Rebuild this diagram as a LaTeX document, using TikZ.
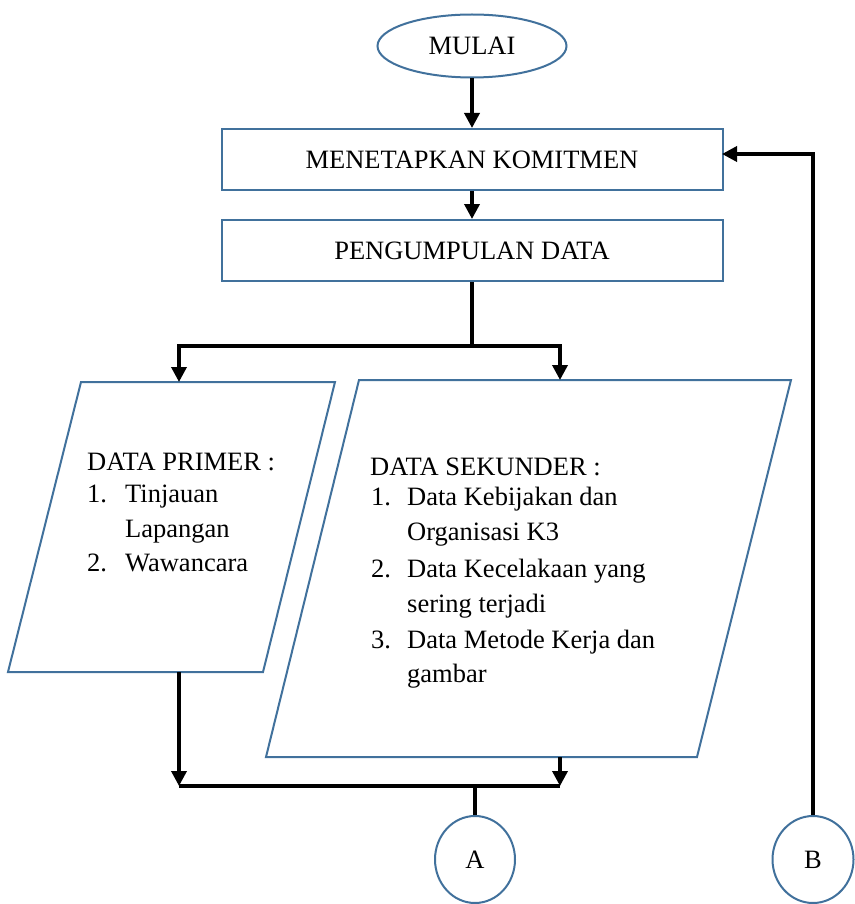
\documentclass[tikz,border=0pt]{standalone}
\usepackage{fontspec}
\setmainfont{Liberation Serif}
\usetikzlibrary{arrows.meta,shapes.geometric}
\definecolor{outl}{RGB}{65,113,156}
\begin{document}
\begin{tikzpicture}[x=1pt,y=-1pt,
  font=\fontsize{26.5}{35}\selectfont,
  shp/.style={draw=outl,line width=2pt,fill=white},
  boxs/.style={shp,rectangle,minimum width=501pt,minimum height=61pt,inner sep=0pt},
  term/.style={shp,ellipse,inner sep=0pt},
  conn/.style={line width=3.5pt,black},
  arr/.style={conn,-{Triangle[length=15pt,width=15pt]}},
  txt/.style={anchor=base west,inner sep=0pt}]
\useasboundingbox (0,0) rectangle (854,904);
% terminator and process boxes
\node[term,minimum width=189pt,minimum height=63pt] (mulai) at (472,46) {MULAI};
\node[boxs] (komit) at (472,159.5) {MENETAPKAN KOMITMEN};
\node[boxs] (kumpul) at (472,250.5) {PENGUMPULAN DATA};
% parallelograms
\coordinate (lp1) at (81,382); \coordinate (lp2) at (335,382);
\coordinate (lp3) at (263,672); \coordinate (lp4) at (8,672);
\coordinate (rp1) at (359,380); \coordinate (rp2) at (791,380);
\coordinate (rp3) at (697,757); \coordinate (rp4) at (266,757);
\draw[shp,line join=miter] (lp1) -- (lp2) -- (lp3) -- (lp4) -- cycle;
\draw[shp,line join=miter] (rp1) -- (rp2) -- (rp3) -- (rp4) -- cycle;
% texts of the parallelograms
\node[txt] (p0) at (87,470) {DATA PRIMER :};
\node[txt] (p1n) at (87,502) {1.};
\node[txt] (p1) at (125,502) {Tinjauan};
\node[txt] (p1b) at (125,537) {Lapangan};
\node[txt] (p2n) at (87,571) {2.};
\node[txt] (p2) at (125,571) {Wawancara};
\node[txt] (s0) at (370,475) {DATA SEKUNDER :};
\node[txt] (s1n) at (371,505) {1.};
\node[txt] (s1) at (407,505) {Data Kebijakan dan};
\node[txt] (s1b) at (407,540) {Organisasi K3};
\node[txt] (s2n) at (371,577) {2.};
\node[txt] (s2) at (407,577) {Data Kecelakaan yang};
\node[txt] (s2b) at (407,612) {sering terjadi};
\node[txt] (s3n) at (371,648) {3.};
\node[txt] (s3) at (407,648) {Data Metode Kerja dan};
\node[txt] (s3b) at (407,682) {gambar};
% connectors
\coordinate (lpIn) at (179,382);
\coordinate (rpIn) at (560,380);
\coordinate (split) at (472,346);
\coordinate (lpOut) at (179,672);
\coordinate (rpOut) at (560,757);
\coordinate (jl) at (179,786);
\coordinate (jr) at (560,786);
\coordinate (jm) at (475,786);
\coordinate (kin) at (722,154);
% offpage connectors
\node[term,minimum width=80pt,minimum height=87pt] (A) at (475,859.5) {A};
\node[term,minimum width=81pt,minimum height=87pt] (B) at (813,859.5) {B};
\draw[arr] (mulai.south) -- (komit.north);
\draw[arr] (komit.south) -- (kumpul.north);
\draw[conn] (kumpul.south) -- (split);
\draw[arr] (split) -| (lpIn);
\draw[arr] (split) -| (rpIn);
\draw[arr] (lpOut) -- (jl);
\draw[arr] (rpOut) -- (jr);
\draw[conn] (jl) -- (jr);
\draw[conn] (jm) -- (A.north);
\draw[arr] (B.north) |- (kin);
\end{tikzpicture}
\end{document}
